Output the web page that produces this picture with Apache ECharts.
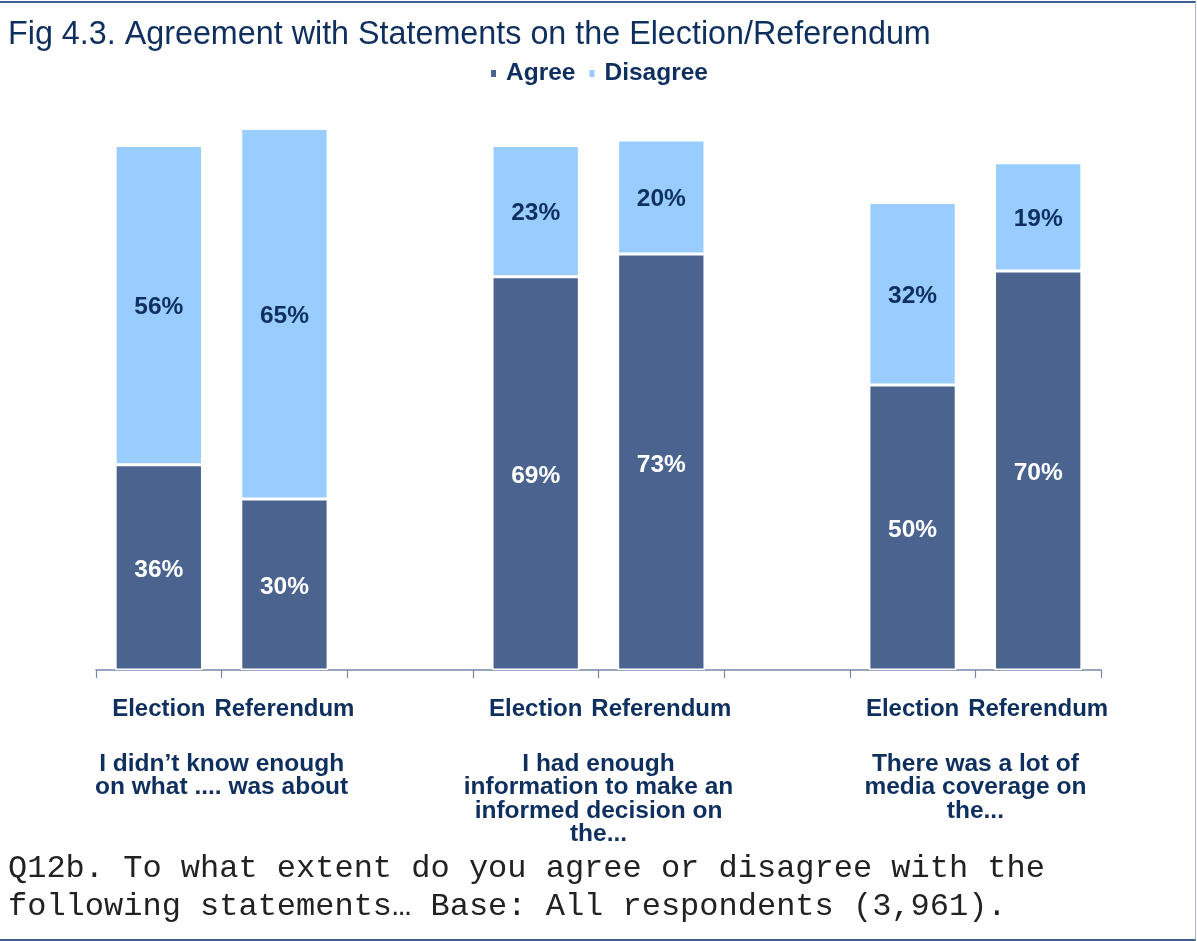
<!DOCTYPE html>
<html>
<head>
<meta charset="utf-8">
<script src="https://cdn.jsdelivr.net/npm/echarts@6/dist/echarts.min.js"></script>
<style>
  html, body { margin: 0; padding: 0; background: #ffffff; }
  #wrap { position: relative; width: 1197px; height: 941px; }
  #chart { position: absolute; left: 0; top: 0; width: 1197px; height: 941px; }
  #frame {
    position: absolute; left: 0; top: 1px; width: 1195px; height: 936px;
    border-top: 2px solid #3d6090; border-right: 1px solid #a9bad0; border-bottom: 2px solid #3d5d8a;
    pointer-events: none;
  }
</style>
</head>
<body>
<div id="wrap">
  <div id="chart"></div>
  <div id="frame"></div>
</div>
<script>
// Survey statements, each asked about the election and the referendum
const statements = [
  'I didn\u2019t know enough\non what .... was about',
  'I had enough\ninformation to make an\ninformed decision on\nthe...',
  'There was a lot of\nmedia coverage on\nthe...'
];
const occasions = ['Election', 'Referendum'];

// Percentages per statement: [Election, Referendum]
const agreeValues = [[36, 30], [69, 73], [50, 70]];
const disagreeValues = [[56, 65], [23, 20], [32, 19]];

// Flatten into a category axis with an empty spacer slot between statement groups
const categories = [];
const agree = [];
const disagree = [];
statements.forEach(function (s, i) {
  if (i > 0) { categories.push(''); agree.push('-'); disagree.push('-'); }
  occasions.forEach(function (o, j) {
    categories.push(o);
    agree.push(agreeValues[i][j]);
    disagree.push(disagreeValues[i][j]);
  });
});

const navy = '#0f2f5f';
const sans = '"Liberation Sans", Arial, sans-serif';

const chart = echarts.init(document.getElementById('chart'));
chart.setOption({
  animation: false,
  title: [
    {
      text: 'Fig 4.3. Agreement with Statements on the Election/Referendum',
      left: 3, top: 14,
      textStyle: { fontFamily: sans, fontSize: 32.3, fontWeight: 'normal', color: navy }
    },
    {
      text: 'Q12b. To what extent do you agree or disagree with the\nfollowing statements\u2026 Base: All respondents (3,961).',
      left: 3, top: 845,
      textStyle: { fontFamily: '"Liberation Mono", "Courier New", monospace', fontSize: 32, fontWeight: 'normal', color: '#222222', lineHeight: 38 }
    }
  ],
  legend: {
    data: ['Agree', 'Disagree'],
    left: 'center', top: 56,
    icon: 'rect', itemWidth: 7, itemHeight: 9, itemGap: 12,
    textStyle: { fontFamily: sans, fontSize: 24.5, fontWeight: 'bold', color: navy, padding: [0, 0, 0, 4] }
  },
  grid: { left: 96, right: 96, top: 100, bottom: 271, containLabel: false },
  xAxis: [
    {
      type: 'category',
      data: categories,
      axisLine: { lineStyle: { color: '#7589a8', width: 1.5 } },
      axisTick: { show: true, length: 8, lineStyle: { color: '#7589a8', width: 1.2 } },
      axisLabel: { margin: 27, fontFamily: sans, fontSize: 24, fontWeight: 'bold', color: navy, interval: 0 }
    },
    {
      // statement captions centred under each Election/Referendum pair
      type: 'value',
      position: 'bottom',
      min: 0, max: categories.length, interval: 1,
      axisLine: { show: false }, axisTick: { show: false }, splitLine: { show: false },
      axisLabel: {
        margin: 82, fontFamily: sans, fontSize: 24.5, fontWeight: 'bold', color: navy,
        lineHeight: 23.5, align: 'center',
        showMinLabel: true, showMaxLabel: true,
        formatter: function (v) {
          return (v % 3 === 1) ? statements[(v - 1) / 3] : '';
        }
      }
    }
  ],
  yAxis: { type: 'value', min: 0, max: 100, show: false },
  series: [
    {
      name: 'Agree', type: 'bar', stack: 'total', barWidth: '69.5%', xAxisIndex: 0,
      data: agree,
      itemStyle: { color: '#4b648f', borderColor: '#ffffff', borderWidth: 1.5 },
      label: { show: true, position: 'inside', offset: [0, 3], formatter: '{c}%', fontFamily: sans, fontSize: 24.5, fontWeight: 'bold', color: '#ffffff' }
    },
    {
      name: 'Disagree', type: 'bar', stack: 'total', barWidth: '69.5%', xAxisIndex: 0,
      data: disagree,
      itemStyle: { color: '#99ccff', borderColor: '#ffffff', borderWidth: 1.5 },
      label: { show: true, position: 'inside', offset: [0, 2], formatter: '{c}%', fontFamily: sans, fontSize: 24.5, fontWeight: 'bold', color: navy }
    }
  ]
});
</script>
</body>
</html>
